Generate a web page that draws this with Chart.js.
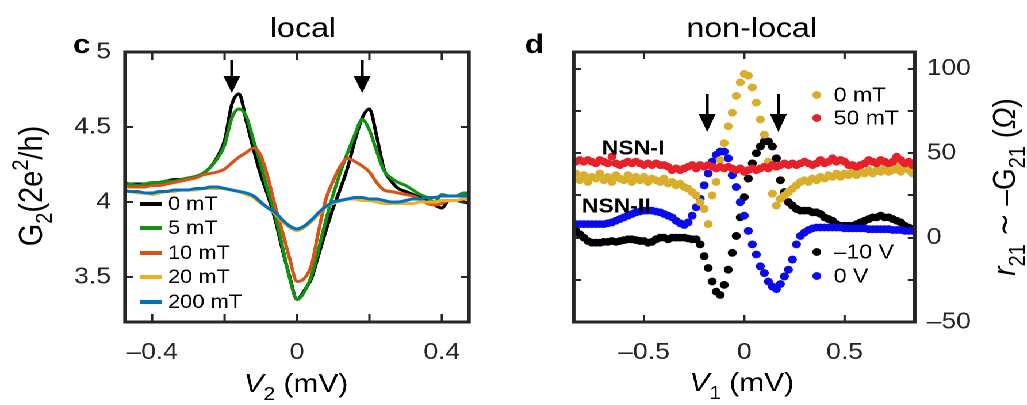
<!DOCTYPE html>
<html>
<head>
<meta charset="utf-8">
<title>local / non-local conductance</title>
<script src="https://cdn.jsdelivr.net/npm/chart.js@4.4.1/dist/chart.umd.min.js"></script>
<style>
  html, body { margin: 0; background: #fff; }
  /* the figure is laid out narrow and widened by K = 1.15 */
  #figure { position: absolute; left: 0; top: 0; width: 893px; height: 405px;
            transform: scaleX(1.15); transform-origin: 0 0; }
  .panel { position: absolute; top: 0; }
</style>
</head>
<body>
<div id="figure">
  <canvas id="localChart" class="panel" width="452" height="405" style="left:0"></canvas>
  <canvas id="nonlocalChart" class="panel" width="441" height="405" style="left:452px"></canvas>
</div>
<script>
const FONT = '"Liberation Sans", Arial, Helvetica, sans-serif'
const AXIS_GREY = '#262626'
const K = 1.15
// horizontal page pixels -> canvas pixels (the canvas gets widened by K)
const hx = v => v / K

// ---- panel c: local conductance G2 vs V2 (mV), one curve per field ----
const biasLocal = [
  -0.48, -0.46, -0.44, -0.42, -0.40, -0.38, -0.36, -0.34, -0.32, -0.30,
  -0.28, -0.26, -0.24, -0.22, -0.20, -0.18, -0.16, -0.14, -0.12, -0.10,
  -0.08, -0.06, -0.04, -0.02, 0.00,
  0.02, 0.04, 0.06, 0.08, 0.10, 0.12, 0.14, 0.16, 0.18, 0.20,
  0.22, 0.24, 0.26, 0.28, 0.30, 0.32, 0.34, 0.36, 0.38, 0.40,
  0.42, 0.44, 0.46, 0.48
]
const g0mT = [
  4.13, 4.12, 4.12, 4.12, 4.12, 4.13, 4.14, 4.15, 4.15, 4.16,
  4.17, 4.19, 4.23, 4.30, 4.41, 4.65, 4.72, 4.54, 4.35, 4.18,
  4.04, 3.88, 3.68, 3.50, 3.35,
  3.41, 3.49, 3.65, 3.81, 3.96, 4.09, 4.23, 4.41, 4.56, 4.62,
  4.44, 4.22, 4.14, 4.09, 4.07, 4.05, 4.03, 4.01, 3.98, 3.96,
  4.01, 4.01, 4.00, 3.99
]
const g5mT = [
  4.12, 4.12, 4.11, 4.12, 4.13, 4.13, 4.14, 4.14, 4.15, 4.16,
  4.17, 4.19, 4.23, 4.29, 4.38, 4.56, 4.62, 4.57, 4.41, 4.25,
  4.07, 3.91, 3.70, 3.49, 3.35,
  3.40, 3.51, 3.69, 3.88, 4.05, 4.20, 4.33, 4.45, 4.55, 4.48,
  4.34, 4.21, 4.16, 4.13, 4.11, 4.08, 4.05, 4.03, 4.00, 4.05,
  4.04, 4.04, 4.06, 4.06
]
const g10mT = [
  4.11, 4.10, 4.10, 4.10, 4.11, 4.11, 4.12, 4.13, 4.14, 4.15,
  4.16, 4.18, 4.19, 4.20, 4.22, 4.26, 4.30, 4.33, 4.36, 4.31,
  4.16, 3.97, 3.80, 3.62, 3.47,
  3.49, 3.58, 3.81, 4.02, 4.14, 4.24, 4.29, 4.27, 4.24, 4.20,
  4.13, 4.08, 4.07, 4.06, 4.05, 4.04, 4.02, 3.99, 3.98, 3.99,
  4.01, 4.01, 4.02, 4.02
]
const g20mT = [
  4.07, 4.07, 4.06, 4.06, 4.05, 4.06, 4.07, 4.07, 4.08, 4.08,
  4.08, 4.09, 4.09, 4.09, 4.09, 4.08, 4.07, 4.05, 4.03, 3.99,
  3.96, 3.92, 3.87, 3.83, 3.81,
  3.83, 3.87, 3.92, 3.97, 3.99, 4.01, 4.02, 4.02, 4.01, 4.01,
  4.00, 3.99, 3.99, 3.99, 3.99, 3.99, 4.00, 4.00, 4.00, 4.01,
  4.01, 4.01, 4.02, 4.02
]
const g200mT = [
  4.08, 4.07, 4.07, 4.06, 4.06, 4.07, 4.07, 4.08, 4.08, 4.08,
  4.09, 4.09, 4.10, 4.10, 4.09, 4.08, 4.07, 4.06, 4.04, 4.00,
  3.96, 3.93, 3.88, 3.84, 3.82,
  3.84, 3.88, 3.93, 3.97, 4.00, 4.01, 4.02, 4.03, 4.03, 4.02,
  4.02, 4.01, 4.00, 4.00, 4.01, 4.02, 4.02, 4.03, 4.03, 4.04,
  4.04, 4.04, 4.04, 4.04
]
const localSeries = [g0mT, g5mT, g10mT, g20mT, g200mT]
const localFields = ['0 mT', '5 mT', '10 mT', '20 mT', '200 mT']
const localColors = ['#000000', '#0f940f', '#d95319', '#edb120', '#0072bd']
const localXLabels = [-0.4, 0, 0.4]
const localXMarks = [-0.4, -0.2, 0, 0.2, 0.4]
const localYLabels = [3.5, 4, 4.5, 5]
const localArrows = [-0.18, 0.18]

// ---- panel d: non-local signal r21 vs V1 (mV) ----
const biasNonlocal = [
  -0.84, -0.82, -0.80, -0.78, -0.76, -0.74, -0.72, -0.70, -0.68, -0.66,
  -0.64, -0.62, -0.60, -0.58, -0.56, -0.54, -0.52, -0.50, -0.48, -0.46,
  -0.44, -0.42, -0.40, -0.38, -0.36, -0.34, -0.32, -0.30, -0.28, -0.26,
  -0.24, -0.22, -0.20, -0.18, -0.16, -0.14, -0.12, -0.10, -0.08, -0.06,
  -0.04, -0.02, 0.00,
  0.02, 0.04, 0.06, 0.08, 0.10, 0.12, 0.14,
  0.16, 0.18, 0.20, 0.22, 0.24, 0.26, 0.28, 0.30, 0.32, 0.34,
  0.36, 0.38, 0.40, 0.42, 0.44, 0.46, 0.48, 0.50, 0.52, 0.54,
  0.56, 0.58, 0.60, 0.62, 0.64, 0.66, 0.68, 0.70, 0.72, 0.74,
  0.76, 0.78, 0.80, 0.82, 0.84
]
// NSN-I, 0 mT
const r0mT = [
  38, 34, 37, 33, 36, 35, 38, 34, 36, 33,
  37, 35, 34, 37, 33, 36, 34, 36, 33, 35,
  34, 33, 35, 32, 33, 31, 32, 30, 29, 27,
  25, 21, 17, 8, 25, 33, 46, 56, 66, 74,
  84, 92, 97,
  96, 89, 80, 70, 61, 45, 26,
  19, 23, 25, 27, 29, 31, 33, 34, 33, 35,
  34, 36, 35, 37, 36, 38, 36, 38, 37, 39,
  37, 39, 38, 40, 38, 40, 39, 41, 39, 40,
  42, 39, 41, 40, 38
]
// NSN-I, 50 mT
const r50mT = [
  45, 46, 45, 46, 45, 44, 46, 45, 44, 48,
  44, 43, 44, 45, 44, 45, 44, 43, 44, 43,
  44, 43, 43, 42, 40, 41, 40, 41, 42, 43,
  41, 43, 42, 43, 42, 41, 42, 41, 42, 41,
  40, 41, 39,
  40, 41, 40, 41, 42, 41, 43,
  42, 43, 44, 43, 44, 43, 44, 45, 44, 43,
  44, 46, 44, 45, 47, 45, 46, 45, 43, 43,
  42, 43, 44, 46, 45, 44, 46, 45, 44, 45,
  48, 46, 44, 45, 43
]
// NSN-II, gate -10 V
const rMinus10V = [
  4, 2, 0, -2, -3, -3, -3, -2.5, -2.5, -2,
  -2.5, -2, -1.5, -1, -1, -1.5, -2, -2, -3, -2.5,
  -1, 0, 0, -1, 0, 0, 0, 0, -0.5, -1,
  -1, -4, -11, -18, -26, -32, -34, -28, -19, -9,
  1, 12, 24,
  35, 44, 50, 54, 57, 57, 54,
  47, 34, 27, 21, 19, 17, 16, 16, 16, 15,
  15, 14, 12, 11, 10, 8, 7, 7, 7, 7,
  8, 9, 10, 11, 12, 12, 13, 12, 12, 11,
  10, 9, 7, 6, 5
]
// NSN-II, gate 0 V
const r0V = [
  8, 8, 8, 8, 8, 8, 8, 8, 8.5, 9,
  10, 11, 12, 13, 14, 15, 15.5, 16, 16, 16,
  15.5, 15, 14, 13, 12, 10, 8.5, 7.5, 9, 13,
  18, 23, 31, 38, 45, 49, 51, 51, 47, 37,
  30, 21, 13,
  4, -4, -10, -17, -21, -26, -29,
  -30.5, -27.5, -23, -19, -13, -4, 1, 3, 4.5, 5.5,
  6, 6, 6, 6, 6, 6, 6, 5.5, 5.5, 5.5,
  5.5, 5.5, 5.5, 5, 5, 5, 5, 5, 5, 4.5,
  4.5, 4.5, 4, 4, 4
]
const nonlocalSeries = [r50mT, r0mT, r0V, rMinus10V]
const nonlocalNames = ['50 mT', '0 mT', '0 V', '\u201310 V']
const nonlocalColors = ['#e8202a', '#d8ae2a', '#0a0af0', '#000000']
const nonlocalXLabels = [-0.5, 0, 0.5]
const nonlocalYLabels = [-50, 0, 50, 100]
const nonlocalYMarks = [-50, -25, 0, 25, 50, 75, 100]
const nonlocalArrows = [-0.185, 0.17]

const fmt = v => (v < 0 ? '\u2013' + String(Math.abs(v)) : String(v))

// inward tick marks on all four sides plus the box
const framePlugin = {
  id: 'frame',
  afterDatasetsDraw(chart, args, opts) {
    const { ctx, chartArea: a } = chart
    const xs = chart.scales.x, ys = chart.scales.y
    const lenX = hx(opts.len)
    ctx.save()
    ctx.strokeStyle = AXIS_GREY
    ctx.lineWidth = 2
    ctx.beginPath()
    opts.xMarks.forEach(v => {
      const px = xs.getPixelForValue(v)
      ctx.moveTo(px, a.bottom); ctx.lineTo(px, a.bottom - opts.len)
      ctx.moveTo(px, a.top); ctx.lineTo(px, a.top + opts.len)
    })
    opts.yMarks.forEach(v => {
      const py = Math.round(ys.getPixelForValue(v))
      ctx.moveTo(a.left, py); ctx.lineTo(a.left + lenX, py)
      ctx.moveTo(a.right, py); ctx.lineTo(a.right - lenX, py)
    })
    ctx.stroke()
    ctx.lineWidth = 3
    ctx.strokeRect(a.left, a.top, a.right - a.left, a.bottom - a.top)
    ctx.restore()
  }
}

// text with italic / bold / sub / sup pieces: '_' sub, '^' sup, 'i', 'b'
function richText(ctx, parts, x, y, size, rotate = 0) {
  const pieces = parts.map(([text, style = '']) => {
    const small = style.includes('_') || style.includes('^')
    const px = small ? Math.round(size * 0.7) : size
    const dy = style.includes('_') ? size * 0.3 : style.includes('^') ? -size * 0.42 : 0
    const font = (style.includes('i') ? 'italic ' : '') + (style.includes('b') ? 'bold ' : '') + px + 'px ' + FONT
    ctx.font = font
    return { text, font, dy, w: ctx.measureText(text).width }
  })
  const total = pieces.reduce((s, p) => s + p.w, 0)
  ctx.save()
  ctx.translate(x, y)
  ctx.rotate(rotate)
  ctx.fillStyle = '#000'
  ctx.textBaseline = 'alphabetic'
  ctx.textAlign = 'left'
  let cx = -total / 2
  pieces.forEach(p => {
    ctx.font = p.font
    ctx.fillText(p.text, cx, p.dy)
    cx += p.w
  })
  ctx.restore()
}

function downArrow(ctx, x, top, headTop, tip) {
  const half = hx(8.5)
  ctx.save()
  ctx.strokeStyle = '#000'
  ctx.fillStyle = '#000'
  ctx.lineWidth = hx(3)
  ctx.beginPath()
  ctx.moveTo(x, top); ctx.lineTo(x, headTop + 2)
  ctx.stroke()
  ctx.beginPath()
  ctx.moveTo(x - half, headTop); ctx.lineTo(x + half, headTop); ctx.lineTo(x, tip)
  ctx.closePath()
  ctx.fill()
  ctx.restore()
}

function plainText(ctx, text, x, y, font, align = 'left', baseline = 'middle') {
  ctx.save()
  ctx.font = font
  ctx.fillStyle = '#000'
  ctx.textAlign = align
  ctx.textBaseline = baseline
  ctx.fillText(text, x, y)
  ctx.restore()
}

const localDecor = {
  id: 'localDecor',
  afterDraw(chart) {
    const { ctx } = chart
    const xs = chart.scales.x
    plainText(ctx, 'local', hx(303), 37, '28px ' + FONT, 'center', 'alphabetic')
    plainText(ctx, 'c', hx(73), 53, 'bold 27px ' + FONT, 'left', 'alphabetic')
    localArrows.forEach(v => downArrow(ctx, xs.getPixelForValue(v), 60, 76, 93))
    // legend
    const rows = [204, 228, 253, 277, 302]
    localFields.forEach((name, i) => {
      ctx.save()
      ctx.strokeStyle = localColors[i]
      ctx.lineWidth = 4
      ctx.beginPath()
      ctx.moveTo(hx(140), rows[i]); ctx.lineTo(hx(162), rows[i])
      ctx.stroke()
      ctx.restore()
      plainText(ctx, name, hx(168), rows[i] + 1, '19px ' + FONT)
    })
    richText(ctx, [['V', 'i'], ['2', '_'], [' (mV)']], hx(296), 392, 26)
    richText(ctx, [['G'], ['2', '_'], ['(2e'], ['2', '^'], ['/h)']], hx(42), 186, 29, -Math.PI / 2)
  }
}

const nonlocalDecor = {
  id: 'nonlocalDecor',
  afterDraw(chart) {
    const { ctx } = chart
    const xs = chart.scales.x
    plainText(ctx, 'non-local', hx(232), 37, '28px ' + FONT, 'center', 'alphabetic')
    plainText(ctx, 'd', hx(5), 53, 'bold 27px ' + FONT, 'left', 'alphabetic')
    plainText(ctx, 'NSN-I', hx(82), 149, 'bold 20px ' + FONT)
    plainText(ctx, 'NSN-II', hx(62), 207, 'bold 20px ' + FONT)
    nonlocalArrows.forEach(v => downArrow(ctx, xs.getPixelForValue(v), 94, 114, 132))
    // legend: NSN-I fields top right, NSN-II gates bottom right
    const entries = [
      { i: 1, y: 95 }, { i: 0, y: 118 }, { i: 3, y: 252 }, { i: 2, y: 276 }
    ]
    entries.forEach(({ i, y }) => {
      ctx.save()
      ctx.fillStyle = nonlocalColors[i]
      ctx.beginPath()
      ctx.arc(hx(297), y, 3.9, 0, Math.PI * 2)
      ctx.fill()
      ctx.restore()
      plainText(ctx, nonlocalNames[i], hx(314), y + 1, '20px ' + FONT)
    })
    richText(ctx, [['V', 'i'], ['1', '_'], [' (mV)']], hx(222), 391, 26)
    richText(ctx, [['r', 'i'], ['21', '_'], [' \u223c '], ['\u2013G'], ['21', '_'], [' ('], ['\u03a9', 'i'], [')']],
      hx(495), 187, 28, -Math.PI / 2)
  }
}

function tickFont(size) {
  return { family: FONT, size }
}

new Chart(document.getElementById('localChart'), {
  type: 'line',
  data: {
    datasets: localSeries.map((values, i) => ({
      label: localFields[i],
      data: biasLocal.map((v, k) => ({ x: v, y: values[k] })),
      borderColor: localColors[i],
      borderWidth: 3,
      pointRadius: 0,
      cubicInterpolationMode: 'monotone',
      order: localSeries.length - 1 - i
    }))
  },
  options: {
    responsive: false,
    animation: false,
    devicePixelRatio: 2,
    events: [],
    layout: { padding: { top: 52, right: 452 - hx(469), left: 0, bottom: 0 } },
    plugins: {
      legend: { display: false },
      tooltip: { enabled: false },
      frame: { xMarks: localXMarks, yMarks: localYLabels, len: 8 }
    },
    scales: {
      x: {
        type: 'linear', min: -0.475, max: 0.475,
        grid: { display: false, drawTicks: false }, border: { display: false },
        afterBuildTicks: s => { s.ticks = localXLabels.map(value => ({ value })) },
        afterFit: s => { s.height = 83 },
        ticks: { font: tickFont(23), color: AXIS_GREY, padding: 17, maxRotation: 0, autoSkip: false, callback: fmt }
      },
      y: {
        type: 'linear', min: 3.2, max: 5,
        grid: { display: false, drawTicks: false }, border: { display: false },
        afterBuildTicks: s => { s.ticks = localYLabels.map(value => ({ value })) },
        afterFit: s => { s.width = hx(125) },
        ticks: { font: tickFont(23), color: AXIS_GREY, padding: hx(14), autoSkip: false, callback: fmt }
      }
    }
  },
  plugins: [framePlugin, localDecor]
})

new Chart(document.getElementById('nonlocalChart'), {
  type: 'scatter',
  data: {
    datasets: nonlocalSeries.map((values, i) => ({
      label: nonlocalNames[i],
      data: biasNonlocal.map((v, k) => ({ x: v, y: values[k] })),
      backgroundColor: nonlocalColors[i],
      borderColor: nonlocalColors[i],
      pointRadius: 3.9,
      pointBorderWidth: 0,
      order: i
    }))
  },
  options: {
    responsive: false,
    animation: false,
    devicePixelRatio: 2,
    events: [],
    layout: { padding: { top: 52, right: 0, left: hx(54), bottom: 0 } },
    plugins: {
      legend: { display: false },
      tooltip: { enabled: false },
      frame: { xMarks: nonlocalXLabels, yMarks: nonlocalYMarks, len: 7 }
    },
    scales: {
      x: {
        type: 'linear', min: -0.85, max: 0.85,
        grid: { display: false, drawTicks: false }, border: { display: false },
        afterBuildTicks: s => { s.ticks = nonlocalXLabels.map(value => ({ value })) },
        afterFit: s => { s.height = 83 },
        ticks: { font: tickFont(23), color: AXIS_GREY, padding: 17, maxRotation: 0, autoSkip: false, callback: fmt }
      },
      y: {
        type: 'linear', position: 'right', min: -50, max: 110,
        grid: { display: false, drawTicks: false }, border: { display: false },
        afterBuildTicks: s => { s.ticks = nonlocalYLabels.map(value => ({ value })) },
        afterFit: s => { s.width = 441 - hx(395) },
        ticks: { font: tickFont(23), color: AXIS_GREY, padding: hx(12), autoSkip: false, callback: fmt }
      }
    }
  },
  plugins: [framePlugin, nonlocalDecor]
})
</script>
</body>
</html>
